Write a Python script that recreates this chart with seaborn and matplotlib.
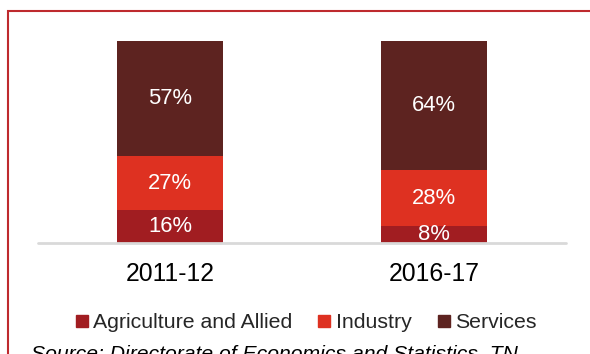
import matplotlib
matplotlib.use("Agg")
import matplotlib.pyplot as plt
from matplotlib.patches import Rectangle
from matplotlib.lines import Line2D
import seaborn as sns
import numpy as np
import pandas as pd

years = ["2011-12", "2016-17"]
sectors = ["Agriculture and Allied", "Industry", "Services"]
agri = [16, 8]
industry = [27, 28]
services = [57, 64]
colors = ["#A11D21", "#DE3121", "#5D2320"]
source_text = "Source: Directorate of Economics and Statistics, TN"

sns.set_theme(style="white")
plt.rcParams["font.family"] = ["Liberation Sans", "DejaVu Sans"]

fig = plt.figure(figsize=(5.9, 3.54), dpi=100)
ax = fig.add_axes([38 / 590, 1 - 242.5 / 354, 528 / 590, 201.5 / 354])

layers = [agri, industry, services]
cum = np.cumsum(np.array(layers), axis=0)
df = pd.DataFrame({"year": years})
# draw from top layer down so lower segments overlay
for i in range(len(layers) - 1, -1, -1):
    df["val"] = cum[i]
    sns.barplot(data=df, x="year", y="val", color=colors[i], width=0.4,
                saturation=1, ax=ax, zorder=2, linewidth=0, edgecolor="none")

for j, yr in enumerate(years):
    bottom = 0
    for i, vals in enumerate(layers):
        v = vals[j]
        ax.text(j, bottom + v / 2, f"{v}%", ha="center", va="center",
                color="white", fontsize=15.8, clip_on=True, zorder=3)
        bottom += v

ax.set_xlim(-0.5, 1.5)
ax.set_ylim(0, 100)
ax.set_xlabel("")
ax.set_ylabel("")
ax.set_yticks([])
for s in ax.spines.values():
    s.set_visible(False)
ax.axhline(0, color="#D9D9D9", lw=2.0, zorder=5, clip_on=False)
ax.tick_params(axis="x", length=0, pad=14, labelsize=17.8, labelcolor="black")

handles = [Line2D([0], [0], marker="s", linestyle="none", markersize=8,
                  markerfacecolor=c, markeredgecolor=c) for c in colors]
fig.legend(handles, sectors, loc="center", bbox_to_anchor=(306 / 590, 1 - 322.5 / 354),
           ncol=3, frameon=False, fontsize=15.3, handlelength=0.55,
           handletextpad=0.25, columnspacing=1.25, borderpad=0, borderaxespad=0)

fig.text(31 / 590, 1 - 360 / 354, source_text, fontsize=15.2, style="italic",
         ha="left", va="baseline", color="black")

fig.patches.append(Rectangle((8 / 590, -0.2), 1.2, 1 - 11 / 354 + 0.2,
                             transform=fig.transFigure, fill=False,
                             edgecolor="#BE2A2E", lw=1.5, figure=fig))

fig.savefig("out.png", dpi=100)
